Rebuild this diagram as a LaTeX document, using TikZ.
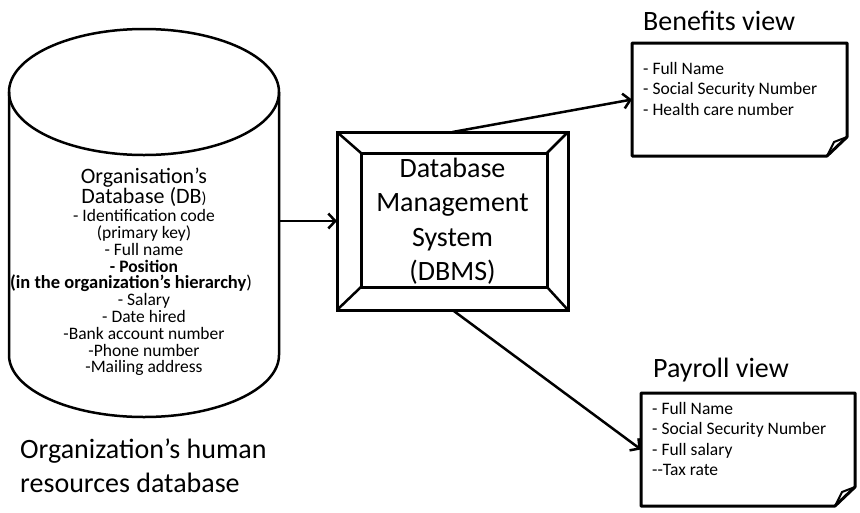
\documentclass[tikz,border=0pt]{standalone}
\usepackage{fontspec}
\setmainfont{Carlito}
\usetikzlibrary{arrows.meta,calc}
\begin{document}
\begin{tikzpicture}[x=1pt,y=-1pt,
  cyl/.style={line width=2.5pt},
  frame/.style={draw,line width=3pt,inner sep=0pt,outer sep=0pt},
  ghost/.style={inner sep=0pt,outer sep=0pt},
  conn/.style={line width=2.5pt,-{Straight Barb[length=7pt,width=15pt]}},
  notebox/.style={line width=3pt,line join=round},
  fold/.style={line width=2pt,line join=round},
  txt/.style={inner sep=0pt,anchor=base},
  txtl/.style={inner sep=0pt,anchor=base west},
  bigfont/.style={font=\fontsize{28pt}{33pt}\selectfont},
  dbtitle/.style={font=\fontsize{22pt}{22pt}\selectfont},
  dbitem/.style={font=\fontsize{17.5pt}{17pt}\selectfont},
  viewitem/.style={font=\fontsize{17.5pt}{20pt}\selectfont}]
\useasboundingbox (0,0) rectangle (860,512);

% ---- cylinder (organisation's database)
\draw[cyl] (144,92) ellipse [x radius=135pt, y radius=63pt];
\draw[cyl] (9,92) -- (9,355) arc[start angle=180, end angle=360, x radius=135pt, y radius=62pt] -- (279,92);
\node[ghost,minimum width=270pt,minimum height=390pt] (db) at (144,221) {};

\node[txt,dbtitle] (dbt1) at (144,183) {Organisation’s};
\node[txt,dbtitle] (dbt2) at (144,203) {Database (DB{\fontsize{16pt}{16pt}\selectfont)}};
\foreach \t [count=\i] in {{- Identification code},{(primary key)},{- Full name},{\textbf{- Position}},{},{- Salary},{- Date hired},{-Bank account number},{-Phone number},{-Mailing address}}
  \node[txt,dbitem] (dbi\i) at (144,{221.7+(\i-1)*16.8}) {\t};
\node[txt,font=\fontsize{18.5pt}{17pt}\selectfont] (dbih) at (131,288.9) {\textbf{(in the organization’s hierarchy})};

\node[txtl,bigfont] (cap1) at (20,458) {Organization’s human};
\node[txtl,bigfont] (cap2) at (20,492) {resources database};

% ---- DBMS frame
\node[frame,minimum width=231pt,minimum height=178pt] (dbms) at (452.5,221) {};
\node[frame,minimum width=186pt,minimum height=134pt] (dbmsin) at (454,220) {};
\draw[line width=2.5pt] (dbms.north west) -- (dbmsin.north west)
  (dbms.north east) -- (dbmsin.north east)
  (dbms.south west) -- (dbmsin.south west)
  (dbms.south east) -- (dbmsin.south east);
\foreach \t [count=\i] in {Database,Management,System,(DBMS)}
  \node[txt,bigfont] (dm\i) at (452.5,{177+(\i-1)*34.5}) {\t};

% ---- Benefits view
\node[txtl,bigfont] (bent) at (643,30) {Benefits view};
\node[ghost,minimum width=215pt,minimum height=113pt] (ben) at (739.5,99.5) {};
\draw[notebox] (ben.north west) -- (ben.north east) -- ($(ben.south east)+(0,-19)$)
  -- ($(ben.south east)+(-20,0)$) -- (ben.south west) -- cycle;
\draw[fold] ($(ben.south east)+(0,-19)$) -- ($(ben.south east)+(-13,-14)$) -- ($(ben.south east)+(-20,0)$);
\foreach \t [count=\i] in {{- Full Name},{- Social Security Number},{- Health care number}}
  \node[txtl,viewitem] (bi\i) at (643,{74+(\i-1)*20.5}) {\t};

% ---- Payroll view
\node[txtl,bigfont] (payt) at (653,377) {Payroll view};
\node[ghost,minimum width=214pt,minimum height=113pt] (pay) at (748,449.5) {};
\draw[notebox] (pay.north west) -- (pay.north east) -- ($(pay.south east)+(0,-19)$)
  -- ($(pay.south east)+(-20,0)$) -- (pay.south west) -- cycle;
\draw[fold] ($(pay.south east)+(0,-19)$) -- ($(pay.south east)+(-13,-14)$) -- ($(pay.south east)+(-20,0)$);
\foreach \t [count=\i] in {{- Full Name},{- Social Security Number},{- Full salary},{-{}-Tax rate}}
  \node[txtl,viewitem] (pi\i) at (652,{414+(\i-1)*20.5}) {\t};

% ---- connectors
\draw[conn] (db.east) -- (dbms.west);
\draw[conn] (dbms.north) -- (ben.west);
\draw[conn] (dbms.south) -- (pay.west);
\end{tikzpicture}
\end{document}
